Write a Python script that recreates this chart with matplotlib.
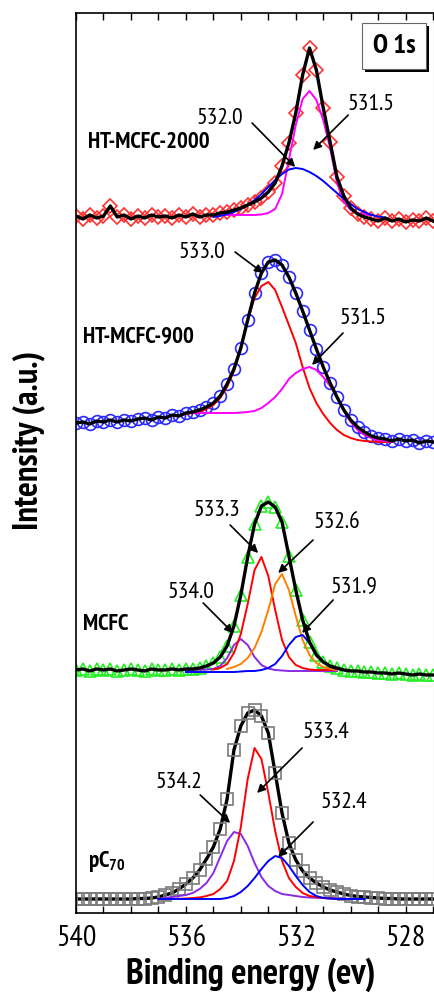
import numpy as np
import matplotlib
matplotlib.use("Agg")
import matplotlib.pyplot as plt
from matplotlib.ticker import MultipleLocator
from matplotlib import patheffects

# narrow sans, close to the condensed Arial look of the original
plt.rcParams['font.family'] = ['PT Sans Narrow', 'Liberation Sans', 'DejaVu Sans']
plt.rcParams['mathtext.fontset'] = 'custom'
plt.rcParams['mathtext.rm'] = 'PT Sans Narrow'
plt.rcParams['mathtext.bf'] = 'PT Sans Narrow:bold'

# binding energy grid of the measured spectra (eV), 540 -> 527 in 0.25 steps
energy = np.linspace(540, 527, 53)

# measured O 1s spectra (arbitrary units, each relative to its own baseline)
ht2000 = [0.2, -0.1, 0.3, 0.0, 0.2, 1.2, 0.1, 0.3, -0.1, 0.2, 0.0, 0.3, 0.1, 0.2, 0.0, 0.3, 0.1, 0.4,
          0.1, 0.3, 0.3, 0.5, 0.6, 0.8, 1.0, 1.3, 1.6, 2.0, 2.6, 3.5, 5.2, 7.5, 10.5, 14.3, 17.0, 14.8,
          11.0, 7.6, 4.1, 2.2, 1.0, 0.4, 0.1, -0.1, -0.3, 0.0, -0.3, -0.1, -0.4, -0.2, -0.3, 0.0, -0.3]
ht900 = [0.0, 0.1, -0.1, 0.2, 0.1, 0.3, 0.1, 0.3, 0.2, 0.4, 0.5, 0.3, 0.6, 0.5, 0.8, 0.7, 1.0, 1.1,
         1.3, 1.6, 2.0, 2.7, 3.9, 5.4, 7.5, 10.3, 13.0, 15.0, 16.1, 16.3, 15.8, 14.6, 13.0, 11.2, 9.3,
         7.4, 5.6, 4.0, 2.6, 1.3, 0.3, -0.4, -0.9, -1.3, -1.5, -1.6, -1.8, -1.6, -1.8, -1.7, -2.0, -1.8, -1.9]
mcfc = [0.0, 0.1, -0.1, 0.1, 0.0, 0.1, -0.1, 0.0, 0.1, 0.0, -0.1, 0.1, 0.0, 0.0, 0.1, 0.0, 0.1, 0.1,
        0.2, 0.4, 0.7, 1.3, 2.4, 4.4, 7.5, 11.3, 14.6, 16.4, 16.8, 16.3, 14.8, 11.4, 8.0, 5.0, 2.8, 1.5,
        0.8, 0.4, 0.2, 0.0, -0.1, -0.1, -0.2, -0.2, -0.3, -0.3, -0.4, -0.3, -0.4, -0.5, -0.4, -0.5, -0.5]
pc70 = [0.0, 0.0, 0.0, 0.0, 0.0, 0.0, 0.0, 0.0, 0.0, 0.05, 0.05, 0.1, 0.2, 0.4, 0.6, 1.0, 1.5, 2.1,
        2.9, 4.0, 5.2, 7.0, 10.0, 14.9, 17.3, 18.6, 18.9, 18.3, 16.6, 12.6, 8.6, 5.6, 3.9, 2.8, 2.1, 1.6,
        1.2, 0.9, 0.7, 0.5, 0.35, 0.25, 0.2, 0.15, 0.1, 0.05, 0.05, 0.0, 0.0, 0.0, 0.0, 0.0, 0.0]

spectra = [ht2000, ht900, mcfc, pc70]
names = ['HT-MCFC-2000', 'HT-MCFC-900', 'MCFC', r'pC$_{\mathbf{70}}$']
offsets = [69.5, 49.0, 24.3, 1.4]
markers = ['D', 'o', '^', 's']
msizes = [7.5, 8.5, 8, 8]
mcolors = ['#ff3030', '#2a2aff', '#22ee22', '#7a7a7a']
label_pos = [(539.56, 77.0), (539.75, 57.6), (539.75, 28.8), (539.56, 5.2)]

# fitted components: (panel, colour, first energy, values every 0.25 eV)
components = [
    (0, '#ff00ff', 535.25, [0.3, 0.3, 0.3, 0.3, 0.3, 0.3, 0.3, 0.3, 0.35, 0.5, 0.9, 2.4, 5.8, 9.3, 11.9,
                            12.7, 11.8, 9.8, 7.0, 3.5, 1.6, 0.8, 0.5, 0.35, 0.3]),
    (0, '#0000ff', 535.0, [0.1, 0.2, 0.4, 0.6, 0.9, 1.3, 1.8, 2.4, 3.1, 3.8, 4.4, 4.85, 5.0, 4.9, 4.6,
                           4.2, 3.7, 3.1, 2.5, 1.9, 1.4, 0.9, 0.6, 0.3, 0.15, 0.05]),
    (1, '#ff0000', 536.0, [0.9, 1.0, 1.1, 1.4, 1.8, 2.5, 3.6, 5.2, 7.5, 10.3, 12.5, 13.7, 14.1, 13.3,
                           11.6, 9.8, 8.0, 5.6, 3.5, 2.0, 0.9, 0.0, -0.7, -1.2, -1.5, -1.7, -1.8,
                           -1.85, -1.9, -1.9, -1.9]),
    (1, '#ff00ff', 536.0, [1.0, 1.0, 1.0, 1.0, 1.0, 1.0, 1.0, 1.0, 1.05, 1.1, 1.2, 1.5, 2.0, 2.6, 3.4,
                           4.4, 5.0, 5.4, 5.6, 5.3, 4.6, 3.7, 2.6, 1.2, 0.1, -0.7, -1.2, -1.5, -1.7,
                           -1.8, -1.9]),
    (2, '#8a2be2', 536.0, [0.0, 0.0, 0.02, 0.05, 0.1, 0.4, 1.2, 2.5, 3.1, 2.5, 1.3, 0.5, 0.15, 0.0,
                           -0.05, -0.1, -0.1, -0.1, -0.1, -0.1, -0.1, -0.1, -0.1]),
    (2, '#ff0000', 535.0, [0.05, 0.2, 0.6, 1.7, 3.6, 6.6, 10.0, 11.3, 9.4, 6.0, 3.0, 1.3, 0.5, 0.2,
                           0.05, 0.0, 0.0, 0.0, 0.0]),
    (2, '#ff8000', 534.5, [0.1, 0.3, 0.6, 1.2, 2.2, 3.8, 6.0, 8.6, 9.6, 8.0, 5.4, 3.0, 1.5, 0.7, 0.3,
                           0.1, 0.0]),
    (2, '#0000ff', 536.0, [-0.2, -0.2, -0.2, -0.2, -0.2, -0.2, -0.2, -0.2, -0.15, -0.1, -0.1, 0.0, 0.2,
                           0.6, 1.4, 2.5, 3.3, 3.5, 2.7, 1.6, 0.8, 0.3, 0.1, 0.0, -0.1]),
    (3, '#8a2be2', 537.0, [0.0, 0.1, 0.2, 0.3, 0.4, 0.6, 1.0, 1.6, 2.6, 4.2, 5.8, 6.7, 6.5, 5.3, 3.6,
                           2.2, 1.3, 0.8, 0.5, 0.4, 0.3, 0.2, 0.15, 0.12, 0.1, 0.08, 0.05, 0.03, 0.0,
                           0.0, 0.0]),
    (3, '#ff0000', 536.5, [0.0, 0.02, 0.05, 0.1, 0.15, 0.3, 0.5, 1.0, 1.8, 3.8, 7.2, 12.0, 15.1, 14.0,
                           10.6, 6.8, 3.8, 2.1, 1.2, 0.6, 0.3, 0.2, 0.1, 0.05, 0.0]),
    (3, '#0000ff', 537.0, [0.0, 0.0, 0.0, 0.0, 0.0, 0.0, 0.0, 0.0, 0.0, 0.0, 0.1, 0.3, 0.7, 1.3, 2.1,
                           3.0, 3.8, 4.3, 4.1, 3.3, 2.3, 1.4, 0.7, 0.3, 0.1, 0.05, 0.0, 0.0, 0.0, 0.0,
                           0.0]),
]

# peak labels: text, text position, arrow tail, arrow head (eV, plot units)
peak_labels = [
    ('532.0', (534.76, 79.5), (533.59, 79.0), (532.02, 74.6)),
    ('531.5', (529.26, 80.8), (530.09, 79.8), (531.37, 76.3)),
    ('533.0', (535.41, 66.0), (534.21, 66.1), (533.19, 64.0)),
    ('531.5', (529.55, 59.5), (530.28, 58.0), (531.41, 54.8)),
    ('533.3', (534.87, 40.3), (534.39, 38.8), (533.37, 36.0)),
    ('532.6', (530.50, 39.0), (531.37, 37.3), (532.64, 34.0)),
    ('534.0', (535.81, 32.0), (535.37, 31.0), (534.28, 28.0)),
    ('531.9', (529.88, 32.6), (530.64, 31.3), (531.77, 28.0)),
    ('533.4', (530.90, 18.1), (531.77, 16.5), (533.41, 12.0)),
    ('534.2', (536.25, 13.1), (535.48, 11.8), (534.39, 9.0)),
    ('532.4', (530.24, 11.0), (531.37, 9.1), (532.64, 5.6)),
]

fig = plt.figure(figsize=(4.35, 9.98), dpi=100)
ax = fig.add_axes([76 / 435, 85 / 998, 358.5 / 435, 900 / 998])

for k, y in enumerate(spectra):
    y = np.array(y) + offsets[k]
    ax.plot(energy, y, linestyle='none', marker=markers[k], ms=msizes[k], mfc='none',
            mec=mcolors[k], mew=1.2, zorder=2)
    ax.plot(energy, y, color='black', lw=2.4, zorder=4 if k < 3 else 1)
    ax.text(label_pos[k][0], label_pos[k][1], names[k], fontsize=16.5, fontweight='bold',
            ha='left', va='center')

for panel, col, start, vals in components:
    e = start - 0.25 * np.arange(len(vals))
    ax.plot(e, np.array(vals) + offsets[panel], color=col, lw=1.4, zorder=3)

for txt, tpos, tail, head in peak_labels:
    ax.text(tpos[0], tpos[1], txt, fontsize=17, ha='center', va='center', zorder=6)
    ax.annotate('', xy=head, xytext=tail, zorder=6,
                arrowprops=dict(arrowstyle='-|>', color='black', lw=1.2,
                                mutation_scale=12, shrinkA=0, shrinkB=0))

box = ax.text(528.42, 86.7, 'O 1s', fontsize=19.5, fontweight='bold', ha='center', va='center',
              zorder=7, bbox=dict(boxstyle='square,pad=0.4', fc='white', ec='#666666', lw=0.8))
box.get_bbox_patch().set_path_effects([
    patheffects.SimplePatchShadow(offset=(2, -2), shadow_rgbFace='black', alpha=1.0),
    patheffects.Normal()])

ax.set_xlim(540, 526.95)
ax.set_ylim(0, 90)
ax.set_xticks([540, 536, 532, 528])
ax.xaxis.set_minor_locator(MultipleLocator(1))
ax.set_yticks([])
ax.tick_params(axis='x', which='both', direction='in', top=True, length=5, width=1.0,
               labelsize=21.5, pad=9)
for s in ['left', 'top', 'bottom']:
    ax.spines[s].set_linewidth(1.2)
ax.spines['right'].set_color('#999999')
ax.spines['right'].set_linewidth(0.8)

fig.text(251 / 435, 1 - 975 / 998, 'Binding energy (ev)', fontsize=26, fontweight='bold',
         ha='center', va='center')
fig.text(29 / 435, 1 - 440 / 998, 'Intensity (a.u.)', fontsize=25, fontweight='bold',
         ha='center', va='center', rotation=90)

fig.savefig('out.png', dpi=100)
